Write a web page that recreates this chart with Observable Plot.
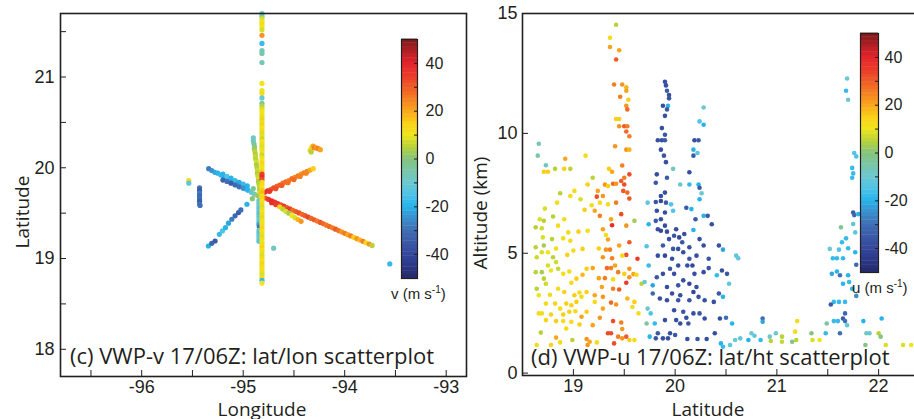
<!DOCTYPE html>
<html><head><meta charset="utf-8">
<script src="https://cdn.jsdelivr.net/npm/d3@7"></script>
<script src="https://cdn.jsdelivr.net/npm/@observablehq/plot@0.6"></script>
<style>
body{margin:0;background:#fff;}
#wrap{position:relative;width:914px;height:419px;overflow:hidden;background:#fff;}
#wrap svg{position:absolute;max-width:none;background:transparent;overflow:visible;}
.lbl{position:absolute;font-family:"Open Sans",sans-serif;color:#231f20;white-space:nowrap;line-height:1;}
.cb{position:absolute;font-family:"Liberation Sans",Arial,sans-serif;color:#231f20;white-space:nowrap;line-height:1;font-size:15px;}
.cb sup{font-size:10px;vertical-align:6px;line-height:0;}
.rot{transform:translate(-50%,-50%) rotate(-90deg);}
</style></head><body>
<div id="wrap">
  <div class="lbl rot" style="left:22px;top:212px;font-size:19px;">Latitude</div>
  <div class="lbl" style="left:262px;top:400px;font-size:19px;transform:translateX(-50%);">Longitude</div>
  <div class="lbl rot" style="left:480px;top:213px;font-size:19px;">Altitude (km)</div>
  <div class="lbl" style="left:708px;top:400px;font-size:19px;transform:translateX(-50%);">Latitude</div>
</div>
<script>
// ---------- colour map (jet-like) ----------
const colorStops = [-50,-45,-40,-35,-30,-25,-20,-15,-10,-5,0,5,10,15,20,25,30,35,40,45,50];
const colorRange = ["#25296b","#2c3886","#35479b","#3b5aa7","#3f6fb5","#3c8fcc","#27b4ea","#4fc3e8","#6cc8d0","#7ac6a5","#86c47c","#b9d337","#efe51d","#fbcf18","#f9a51b","#f47f22","#ef5a27","#ea3a2a","#e3242b","#b01e23","#7b1a1a"];

// ---------- panel (c): [lon, lat, v] ----------
const vertTop = [[-94.815,21.70,-8],[-94.815,21.67,-6],[-94.815,21.64,8],[-94.815,21.61,10],[-94.815,21.58,12],[-94.815,21.55,10],[-94.815,21.52,8],
 [-94.815,21.46,22],[-94.815,21.37,-18],[-94.815,21.29,-8],[-94.815,21.26,-5],[-94.815,21.16,-8],[-94.815,20.93,10],[-94.815,20.85,10],[-94.815,20.82,12],
 [-94.815,20.77,-10],[-94.815,20.71,-5],[-94.815,20.68,5],[-94.815,20.65,8],[-94.815,20.62,10]];
const vertLine = [[-94.815,20.59,10],[-94.815,20.56,12],[-94.815,20.53,8],[-94.815,20.50,12],[-94.815,20.47,14],[-94.815,20.44,10],[-94.815,20.41,12],[-94.815,20.38,8],
 [-94.815,20.35,12],[-94.815,20.32,6],[-94.815,20.29,10],[-94.815,20.26,12],[-94.815,20.23,8],[-94.815,20.20,12],[-94.815,20.17,10],[-94.815,20.14,6],
 [-94.815,20.11,12],[-94.815,20.08,10],[-94.815,20.05,14],[-94.815,20.02,12],[-94.815,19.99,10],[-94.815,19.96,14],[-94.815,19.93,34],[-94.815,19.90,38],
 [-94.815,19.87,32],[-94.815,19.84,14],[-94.815,19.81,12],[-94.815,19.78,10],[-94.815,19.75,16],[-94.815,19.72,18],[-94.815,19.69,12],[-94.815,19.66,14],
 [-94.815,19.63,10],[-94.815,19.60,12],[-94.815,19.57,8],[-94.815,19.54,12],[-94.815,19.51,10],[-94.815,19.48,12],[-94.815,19.45,8],[-94.815,19.42,12],
 [-94.815,19.39,10],[-94.815,19.36,12],[-94.815,19.33,14],[-94.815,19.30,10],[-94.815,19.27,12],[-94.815,19.24,8],[-94.815,19.21,12],[-94.815,19.18,10],
 [-94.815,19.15,12],[-94.815,19.12,14],[-94.815,19.09,10],[-94.815,19.06,12],[-94.815,19.03,8],[-94.815,19.00,12],[-94.815,18.97,10],[-94.815,18.94,14],
 [-94.815,18.91,12],[-94.815,18.88,10],[-94.815,18.85,12],[-94.815,18.82,8],[-94.815,18.79,12],[-94.815,18.76,-18],[-94.815,18.73,10]];
const cyanBand = [[-94.845,19.64,-8],[-94.845,19.61,-12],[-94.845,19.58,-10],[-94.845,19.55,-14],[-94.845,19.52,-12],[-94.845,19.49,-16],[-94.845,19.46,-12],
 [-94.845,19.43,-10],[-94.845,19.40,-14],[-94.845,19.37,-22],[-94.84,19.345,-30],[-94.845,19.31,-10],[-94.845,19.28,-14],[-94.845,19.25,-12],[-94.845,19.22,-10],[-94.845,19.19,-14]];
const tiltLine = [[-94.90,20.33,-8],[-94.90,20.30,-10],[-94.895,20.27,-5],[-94.89,20.24,-3],[-94.89,20.21,2],[-94.885,20.18,5],[-94.88,20.15,4],[-94.88,20.12,6],
 [-94.875,20.09,5],[-94.87,20.06,8],[-94.87,20.03,3],[-94.865,20.00,5],[-94.86,19.97,7],[-94.86,19.94,4],[-94.855,19.91,6],[-94.85,19.88,8],[-94.85,19.85,3],
 [-94.845,19.82,5],[-94.84,19.79,6],[-94.84,19.76,4],[-94.835,19.73,8],[-94.90,19.77,-3],[-94.91,19.66,0]];
const rayNE = [[-94.79,19.73,35],[-94.76,19.745,38],[-94.73,19.76,30],[-94.70,19.78,32],[-94.67,19.795,28],[-94.64,19.81,30],[-94.61,19.83,26],[-94.58,19.845,28],
 [-94.55,19.86,25],[-94.52,19.88,27],[-94.49,19.895,24],[-94.46,19.91,26],[-94.43,19.93,22],[-94.40,19.945,25],[-94.37,19.96,24],[-94.34,19.975,20],[-94.31,19.99,15],
 [-94.74,19.74,36],[-94.68,19.77,32],[-94.62,19.805,30],[-94.56,19.835,27],[-94.50,19.87,28],[-94.44,19.905,25],[-94.38,19.94,24]];
const clusterNE = [[-94.34,20.19,8],[-94.33,20.21,15],[-94.32,20.23,12],[-94.31,20.24,20],[-94.30,20.22,25],[-94.28,20.22,22],[-94.26,20.21,25],[-94.24,20.20,20],[-94.33,20.175,5]];
const raySE = [[-94.78,19.666,30],[-94.75,19.651,35],[-94.72,19.636,38],[-94.69,19.621,36],[-94.66,19.606,38],[-94.63,19.592,32],[-94.60,19.577,35],[-94.57,19.562,30],
 [-94.54,19.547,33],[-94.51,19.532,28],[-94.48,19.517,30],[-94.45,19.502,32],[-94.42,19.487,28],[-94.39,19.472,30],[-94.36,19.457,34],[-94.33,19.442,28],
 [-94.30,19.427,30],[-94.27,19.413,26],[-94.24,19.398,30],[-94.21,19.383,28],[-94.18,19.368,26],[-94.15,19.353,28],[-94.12,19.338,25],[-94.09,19.323,30],
 [-94.06,19.308,27],[-94.03,19.293,22],[-94.00,19.278,26],[-93.97,19.263,20],[-93.94,19.249,25],[-93.91,19.234,15],[-93.88,19.219,22],[-93.85,19.204,18],
 [-93.82,19.189,25],[-93.79,19.174,12],[-93.76,19.159,22],[-93.73,19.144,5],
 [-94.72,19.615,38],[-94.68,19.595,35],[-94.64,19.575,38],[-94.60,19.555,32],[-94.56,19.535,35]];
const branchSE = [[-94.64,19.57,15],[-94.61,19.545,5],[-94.58,19.52,8],[-94.55,19.50,3],[-94.52,19.475,10],[-94.49,19.45,8],[-94.46,19.43,18],[-94.43,19.41,22]];
const rayNW = [[-95.34,19.99,-28],[-95.31,19.97,-25],[-95.28,19.95,-22],[-95.25,19.94,-20],[-95.22,19.92,-18],[-95.19,19.90,-20],[-95.16,19.88,-22],[-95.13,19.86,-18],
 [-95.10,19.84,-15],[-95.07,19.825,-20],[-95.04,19.805,-18],[-95.01,19.79,-15],[-94.98,19.77,-17],[-94.95,19.75,-14],[-94.92,19.73,-12],[-94.89,19.71,-8],[-94.86,19.695,2],
 [-95.20,19.93,-20],[-95.16,19.905,-15],[-95.12,19.885,-20],[-95.08,19.86,-18],[-95.04,19.84,-22],[-95.00,19.82,-18],[-94.96,19.80,-20],
 [-95.20,19.865,-33],[-95.16,19.85,-30],[-95.12,19.83,-35],[-95.08,19.81,-32],[-95.04,19.79,-30],[-95.00,19.775,-25],[-94.96,19.76,-20]];
const raySW = [[-95.343,19.138,-20],[-95.31,19.168,-32],[-95.277,19.193,-35],[-95.235,19.267,-18],[-95.205,19.304,-15],[-95.175,19.34,-20],[-95.145,19.389,-22],
 [-95.112,19.433,-28],[-95.08,19.47,-32],[-95.046,19.506,-35],[-95.023,19.536,-30],[-94.963,19.598,-20]];
const westSeg = [[-95.43,19.78,-30],[-95.43,19.75,-35],[-95.43,19.72,-28],[-95.43,19.69,-32],[-95.43,19.66,-30],[-95.43,19.63,-35],[-95.43,19.60,-28],[-95.425,19.585,-30]];
const isolatedC = [[-95.536,19.86,12],[-95.536,19.83,-12],[-93.556,18.94,-18],[-94.70,19.114,-8]];

// ---------- panel (d): [lat, alt, u] ----------
const clusterA = [[18.66,9.57,-8],[18.65,9.07,-5],[18.73,8.67,-8],[18.71,8.4,15],[18.75,8.4,15],[18.82,8.52,5],[18.91,8.52,15],[18.92,8.94,20],[18.97,8.52,5],
 [19.12,9.07,12],[19.19,8.15,5],[19.14,7.87,15],[18.87,7.5,5],[19.01,7.6,12],[18.97,7.39,12],[19.07,7.25,8],[18.84,7.11,12],[18.72,6.86,8],[18.67,6.42,8],
 [18.71,6.35,5],[18.80,6.53,5],[18.91,6.42,12],[18.63,6.08,5],[18.69,6.04,7],[18.85,6.15,12],[18.95,5.87,12],[19.05,5.9,15],[19.14,5.94,12],[19.21,6.77,20],
 [19.18,7.0,12],[19.11,6.81,15],[19.26,7.11,12],[18.70,5.66,8],[18.79,5.59,5],[18.63,5.25,5],[18.71,5.32,3],[18.64,4.83,7],[18.69,5.04,8],[18.75,5.04,10],
 [18.83,5.2,12],[18.90,5.62,12],[18.97,5.52,12],[18.94,4.93,14],[19.00,5.11,12],[19.09,5.18,15],[18.80,4.83,5],[18.83,4.63,7],[18.85,4.35,6],[18.75,4.49,8],
 [18.69,4.21,3],[18.71,3.94,5],[18.73,3.73,7],[18.64,3.52,5],[18.66,3.25,10],[18.63,4.21,5],[18.78,4.28,10],[18.90,4.14,12],[18.96,4.24,12],[19.03,3.94,15],
 [18.98,3.77,12],[19.09,4.1,18],[19.13,4.35,15],[19.19,4.38,20],[18.77,3.27,12],[18.85,3.52,12],[18.91,3.38,14],[19.01,3.25,15],[19.06,3.36,12],[19.13,3.38,14],
 [18.73,2.9,12],[18.82,2.9,14],[18.87,2.69,12],[18.93,2.9,15],[18.98,2.83,14],[19.03,2.97,15],[19.08,3.18,12],[19.21,3.25,20],[18.66,2.49,12],[18.69,2.49,12],
 [18.78,2.44,14],[18.90,2.44,15],[18.96,2.56,14],[19.02,2.58,12],[19.08,2.35,20],[19.13,2.56,15],[18.73,2.21,14],[18.83,2.17,15],[18.90,2.17,12],[18.98,2.14,12],
 [19.06,2.03,15],[18.93,1.86,12],[18.68,1.69,5],[18.83,1.48,20],[18.99,1.38,5],[18.87,1.28,12],[19.14,1.17,22],[18.78,1.17,14],[18.64,1.17,12]];
const clusterB = [[19.42,14.53,5],[19.36,13.99,12],[19.36,13.6,20],[19.45,13.47,20],[19.42,13.08,30],[19.40,12.04,25],[19.48,12.04,22],[19.52,11.92,18],
 [19.52,11.78,20],[19.46,11.53,25],[19.54,11.4,15],[19.52,11.15,22],[19.53,11.0,28],[19.42,10.6,15],[19.45,10.6,15],[19.50,10.3,30],[19.53,10.3,25],[19.45,10.3,22],
 [19.52,10.08,28],[19.55,9.88,25],[19.41,9.46,22],[19.52,9.32,22],[19.55,9.32,18],[19.35,8.52,15],[19.38,8.4,20],[19.48,8.66,25],[19.55,8.29,32],[19.50,8.15,25],
 [19.47,8.01,30],[19.39,7.9,28],[19.42,7.9,22],[19.50,7.87,32],[19.31,7.86,22],[19.34,7.8,15],[19.49,7.6,30],[19.53,7.53,28],[19.24,7.6,20],[19.23,7.36,32],
 [19.29,7.39,22],[19.55,7.28,30],[19.42,7.11,25],[19.34,7.04,12],[19.47,6.63,32],[19.26,6.56,25],[19.37,6.42,20],[19.60,6.35,3],[19.52,6.15,22],[19.38,6.17,38],
 [19.29,6.0,20],[19.32,5.76,12],[19.34,5.57,20],[19.55,5.46,30],[19.45,5.32,20],[19.25,5.2,15],[19.32,5.15,22],[19.36,5.15,25],[19.52,4.93,32],[19.48,4.9,12],
 [19.63,4.77,35],[19.29,4.83,22],[19.38,4.79,25],[19.41,4.49,20],[19.33,4.38,28],[19.37,4.38,25],[19.55,4.35,22],[19.44,4.21,25],[19.50,4.14,15],[19.59,4.13,20],
 [19.55,4.0,22],[19.62,4.1,12],[19.25,3.96,20],[19.31,3.96,25],[19.39,3.91,12],[19.52,3.77,35],[19.67,3.73,5],[19.39,3.52,25],[19.28,3.59,20],[19.45,3.49,30],
 [19.29,3.18,22],[19.53,3.11,18],[19.60,2.97,15],[19.37,2.94,28],[19.42,2.86,22],[19.21,2.97,12],[19.29,2.69,20],[19.58,2.76,12],[19.64,2.49,12],[19.26,2.31,22],
 [19.39,2.17,32],[19.47,2.11,25],[19.19,2.0,20],[19.48,1.84,22],[19.34,1.66,32],[19.37,1.66,32],[19.44,1.52,25],[19.48,1.45,22],[19.52,1.52,30],[19.55,1.38,15],
 [19.60,1.38,12],[19.16,1.31,20],[19.23,1.28,12],[19.13,1.42,22],[19.40,1.24,32]];
const clusterC = [[19.90,12.15,-38],[19.91,12.0,-38],[19.92,11.78,-35],[19.94,11.6,-38],[19.94,11.46,-36],[19.88,11.15,-38],[19.93,11.15,-20],[19.92,11.0,-35],
 [19.90,10.73,-38],[19.87,10.22,-38],[19.90,9.94,-36],[19.83,9.71,-38],[19.87,9.71,-38],[19.90,9.71,-35],[19.86,9.32,-38],[19.89,9.07,-36],[19.91,8.8,-38],
 [19.82,8.29,-38],[19.92,8.15,-35],[19.81,7.94,-36],[19.90,7.53,-38],[19.86,7.39,-38],[19.81,7.14,-36],[19.86,7.18,-40],[19.91,7.11,-35],[19.96,7.04,-15],
 [19.82,6.77,-38],[19.90,6.7,-38],[19.86,6.42,-38],[19.81,6.35,-35],[19.90,6.15,-38],[19.83,6.0,-38],[19.86,5.94,-40],[19.92,5.9,-38],[20.01,6.0,-38],
 [19.99,5.73,-36],[19.94,5.59,-38],[20.04,5.66,-40],[20.09,5.8,-38],[20.07,5.46,-36],[20.14,5.25,-38],[20.03,5.18,-38],[19.98,5.18,-36],[19.88,5.32,-35],
 [19.83,4.9,-38],[19.90,4.9,-40],[19.97,4.77,-38],[20.08,5.04,-38],[20.14,4.77,-36],[20.21,4.9,-38],[20.28,5.32,-38],[20.24,5.59,-38],[20.33,4.77,-36],
 [20.03,4.49,-38],[20.12,4.49,-38],[20.17,4.49,-40],[19.95,4.35,-36],[19.88,4.14,-38],[19.99,4.14,-38],[19.82,4.0,-36],[20.19,4.14,-38],[20.28,4.21,-38],
 [20.33,4.38,-36],[20.08,3.87,-38],[20.14,3.73,-40],[20.03,3.66,-36],[19.92,3.59,-38],[19.78,3.66,-22],[20.21,3.59,-38],[20.18,3.38,-40],[19.78,3.32,-32],
 [19.97,3.32,-38],[20.05,3.25,-38],[20.23,3.18,-38],[20.14,3.04,-36],[19.85,3.11,-38],[19.92,3.04,-38],[20.03,3.04,-36],[20.29,3.04,-38],[20.38,2.97,-38],
 [20.43,3.32,-36],[20.47,3.18,-20],[19.99,2.62,-38],[20.08,2.56,-36],[20.18,2.49,-38],[20.24,2.49,-36],[20.29,2.28,-38],[20.11,2.31,-38],[20.01,2.21,-38],
 [19.90,2.21,-38],[20.13,2.07,-36],[20.05,2.07,-38],[20.44,2.28,-38],[20.50,2.31,-30],[20.56,2.07,-20],[20.39,1.66,-38],[19.95,1.66,-38],[19.83,1.66,-35],
 [19.88,1.45,-38],[19.93,1.45,-38],[20.00,1.59,-36],[20.12,1.42,-38],[20.22,1.42,-36],[20.31,1.42,-38],[19.81,1.45,-36],
 [19.73,7.11,-12],[19.72,5.29,-15],[19.74,4.49,-18],[19.74,6.21,-20],[19.73,2.69,-10],[19.76,2.49,-15],[19.72,2.07,-5],[19.80,2.07,-18],[19.75,1.52,-20],[19.70,3.8,-10],
 [20.28,11.08,-10],[20.24,10.5,-15],[20.28,10.36,-20],[20.19,9.71,-38],[20.23,9.71,-35],[20.18,9.32,-20],[20.22,9.18,-12],[20.18,9.07,-35],[19.98,8.52,-8],
 [20.14,8.38,-38],[20.05,7.87,-10],[20.14,7.87,-18],[20.23,7.87,-20],[20.24,7.73,-35],[20.26,7.5,-10],[20.24,7.25,-20],[20.11,6.9,-35],[20.16,6.84,-20],
 [19.98,6.77,-15],[20.28,6.56,-20],[20.32,6.56,-35],[20.20,6.42,-35],[20.36,6.21,-38],[20.18,5.97,-20],[20.43,5.32,-38],[20.47,5.15,-22],[20.60,4.9,-12],
 [20.62,4.79,-12],[20.46,4.28,-38],[20.51,4.14,-36],[20.53,3.73,-12],[20.41,4.08,-18]];
const clusterD = [[20.45,1.24,-20],[20.47,1.1,-18],[20.54,1.17,-12],[20.59,1.38,-10],[20.64,1.45,-12],[20.72,1.38,-20],[20.75,1.66,-10],[20.78,1.56,-12],
 [20.86,2.28,-30],[20.86,2.14,-22],[20.84,1.38,-18],[20.93,1.52,-10],[20.94,1.34,5],[20.99,1.66,-10],[21.05,1.52,5],[21.05,1.31,6],[21.18,1.73,12],[21.20,2.17,12],
 [21.15,1.31,0],[21.19,1.38,5],[21.34,1.66,0],[21.35,1.38,8],[21.42,1.38,10],[21.48,1.66,-18],[21.49,2.07,-5],[21.62,1.66,-30],[21.88,1.66,-8],[21.91,1.66,-10],
 [22.00,1.66,5],[22.02,1.52,0],[22.03,2.28,-20],[21.85,2.17,-20],[22.07,1.17,8],[22.24,1.17,8],[22.32,1.17,10],[21.87,1.17,0]];
const clusterE = [[21.69,12.29,-10],[21.68,11.78,-18],[21.70,11.4,-10],[21.75,8.33,-18],[21.74,8.15,-18],[21.76,9.18,-15],[21.78,9.04,-15],[21.74,8.56,-18],
 [21.75,6.7,-35],[21.76,6.59,-32],[21.80,6.63,-20],[21.75,6.22,-12],[21.63,6.08,-3],[21.77,5.87,-12],[21.68,5.62,-18],[21.64,5.46,-18],[21.70,5.21,-18],
 [21.61,5.15,-15],[21.52,5.18,-10],[21.77,5.04,-20],[21.55,4.79,-18],[21.59,4.79,-18],[21.65,4.79,-18],[21.78,4.52,-32],[21.54,4.14,-22],[21.59,4.24,-20],
 [21.62,4.08,-30],[21.70,4.08,-20],[21.65,3.73,-20],[21.71,3.8,-18],[21.74,3.52,-20],[21.78,3.22,-25],[21.56,2.97,-18],[21.61,2.97,-18],[21.67,2.97,-18],
 [21.53,2.86,-35],[21.67,2.49,-32],[21.65,2.28,-35],[21.67,2.17,-30],[21.56,2.17,-18],[21.60,2.17,-18],[21.69,2.0,-10]];

// ---------- ticks ----------
const lonTicks = [-96,-95,-94,-93];
const lonMinor = [-96.5,-96,-95.5,-95,-94.5,-94,-93.5,-93];
const latTicksC = [18,19,20,21];
const latMinorC = [18,18.5,19,19.5,20,20.5,21,21.5];
const latTicksD = [19,20,21,22];
const latMinorD = [19,19.5,20,20.5,21,21.5,22];
const altTicks = [0,5,10,15];
const cbTicks = [-40,-20,0,20,40];
const cbMinor = [-40,-30,-20,-10,0,10,20,30,40];

const ink = "#231f20";
const colorOpts = {type: "linear", domain: colorStops, range: colorRange, clamp: true};
const svgStyle = "position:absolute;background:transparent;max-width:none;overflow:visible;font-family:'Liberation Sans',Arial,sans-serif;font-size:18px;color:#231f20;";

const ptsC = [...westSeg, ...isolatedC, ...raySW, ...rayNW, ...clusterNE, ...rayNE, ...raySE, ...branchSE, ...tiltLine, ...cyanBand, ...vertTop, ...vertLine]
  .map(([lon, lat, v]) => ({lon, lat, v}));
const ptsD = [...clusterA, ...clusterB, ...clusterC, ...clusterD, ...clusterE]
  .map(([lat, alt, u]) => ({lat, alt, u}));

const wrap = document.getElementById("wrap");

const plotC = Plot.plot({
  width: 470, height: 419, marginLeft: 60, marginRight: 4, marginTop: 13, marginBottom: 43,
  x: {domain: [-96.8, -92.8]}, y: {domain: [17.7, 21.7]},
  color: colorOpts, style: svgStyle,
  marks: [
    Plot.dot(ptsC, {x: "lon", y: "lat", fill: "v", r: 2.6}),
    Plot.frame({stroke: ink, strokeWidth: 1.6}),
    Plot.axisX({ticks: lonTicks, tickSize: 0, tickPadding: 4, tickFormat: d => String(d), label: null, fill: ink}),
    Plot.axisX({ticks: lonMinor, tickSize: -6, stroke: ink, fill: "none", label: null}),
    Plot.axisY({ticks: latTicksC, tickSize: 0, tickPadding: 6, tickFormat: d => String(d), label: null, fill: ink}),
    Plot.axisY({ticks: latMinorC, tickSize: -6, stroke: ink, fill: "none", label: null})
  ]
});
plotC.style.left = "0px"; plotC.style.top = "0px";
wrap.appendChild(plotC);

const plotD = Plot.plot({
  width: 467, height: 419, marginLeft: 60, marginRight: 0, marginTop: 13, marginBottom: 44,
  x: {domain: [18.5, 22.5]}, y: {domain: [-0.1, 15]},
  color: colorOpts, style: svgStyle,
  marks: [
    Plot.dot(ptsD, {x: "lat", y: "alt", fill: "u", r: 2.3}),
    Plot.frame({stroke: ink, strokeWidth: 1.6}),
    Plot.axisX({ticks: latTicksD, tickSize: 0, tickPadding: 4, tickFormat: d => String(d), label: null, fill: ink}),
    Plot.axisX({ticks: latMinorD, tickSize: -6, stroke: ink, fill: "none", label: null}),
    Plot.axisY({ticks: altTicks, tickSize: 0, tickPadding: 5, tickFormat: d => String(d), label: null, fill: ink}),
    Plot.axisY({ticks: altTicks, tickSize: -6, stroke: ink, fill: "none", label: null})
  ]
});
plotD.style.left = "462px"; plotD.style.top = "0px";
wrap.appendChild(plotD);

// colour bars
const cbStep = 100 / 64;
const cbBands = d3.range(-50, 50 - 1e-9, cbStep);
function colorbar(left, top, barW, barH, pad) {
  const p = Plot.plot({
    width: barW + 44, height: barH + 2, marginLeft: 0, marginRight: 44, marginTop: 1, marginBottom: 1,
    x: {domain: [0, 1], axis: null}, y: {domain: [-50, 50]},
    color: colorOpts, style: svgStyle + "font-size:16px;",
    marks: [
      Plot.rect(cbBands, {x1: 0, x2: 1, y1: d => d, y2: d => d + cbStep, fill: d => d + cbStep / 2, insetTop: -0.4}),
      Plot.frame({stroke: ink, strokeWidth: 1.2}),
      Plot.axisY({anchor: "right", ticks: cbMinor, tickSize: -4, stroke: ink, fill: "none", label: null}),
      Plot.axisY({anchor: "right", ticks: cbTicks, tickSize: 0, tickPadding: pad, tickFormat: d => String(d), label: null, fill: ink})
    ]
  });
  p.style.left = left + "px"; p.style.top = (top - 1) + "px";
  wrap.appendChild(p);
}
colorbar(401, 39, 16, 239, 8);
colorbar(860, 33, 18, 239, 6);

function addLabel(html, cls, styleText) {
  const d = document.createElement("div");
  d.className = cls; d.setAttribute("style", styleText); d.innerHTML = html;
  wrap.appendChild(d);
}
addLabel("v (m s<sup>-1</sup>)", "cb", "left:391px;top:286px;");
addLabel("u (m s<sup>-1</sup>)", "cb", "left:852px;top:280px;");
addLabel("(c) VWP-v 17/06Z: lat/lon scatterplot", "lbl", "left:70px;top:344px;font-size:22px;");
addLabel("(d) VWP-u 17/06Z: lat/ht scatterplot", "lbl", "left:531px;top:345px;font-size:22px;");
</script>
</body></html>
